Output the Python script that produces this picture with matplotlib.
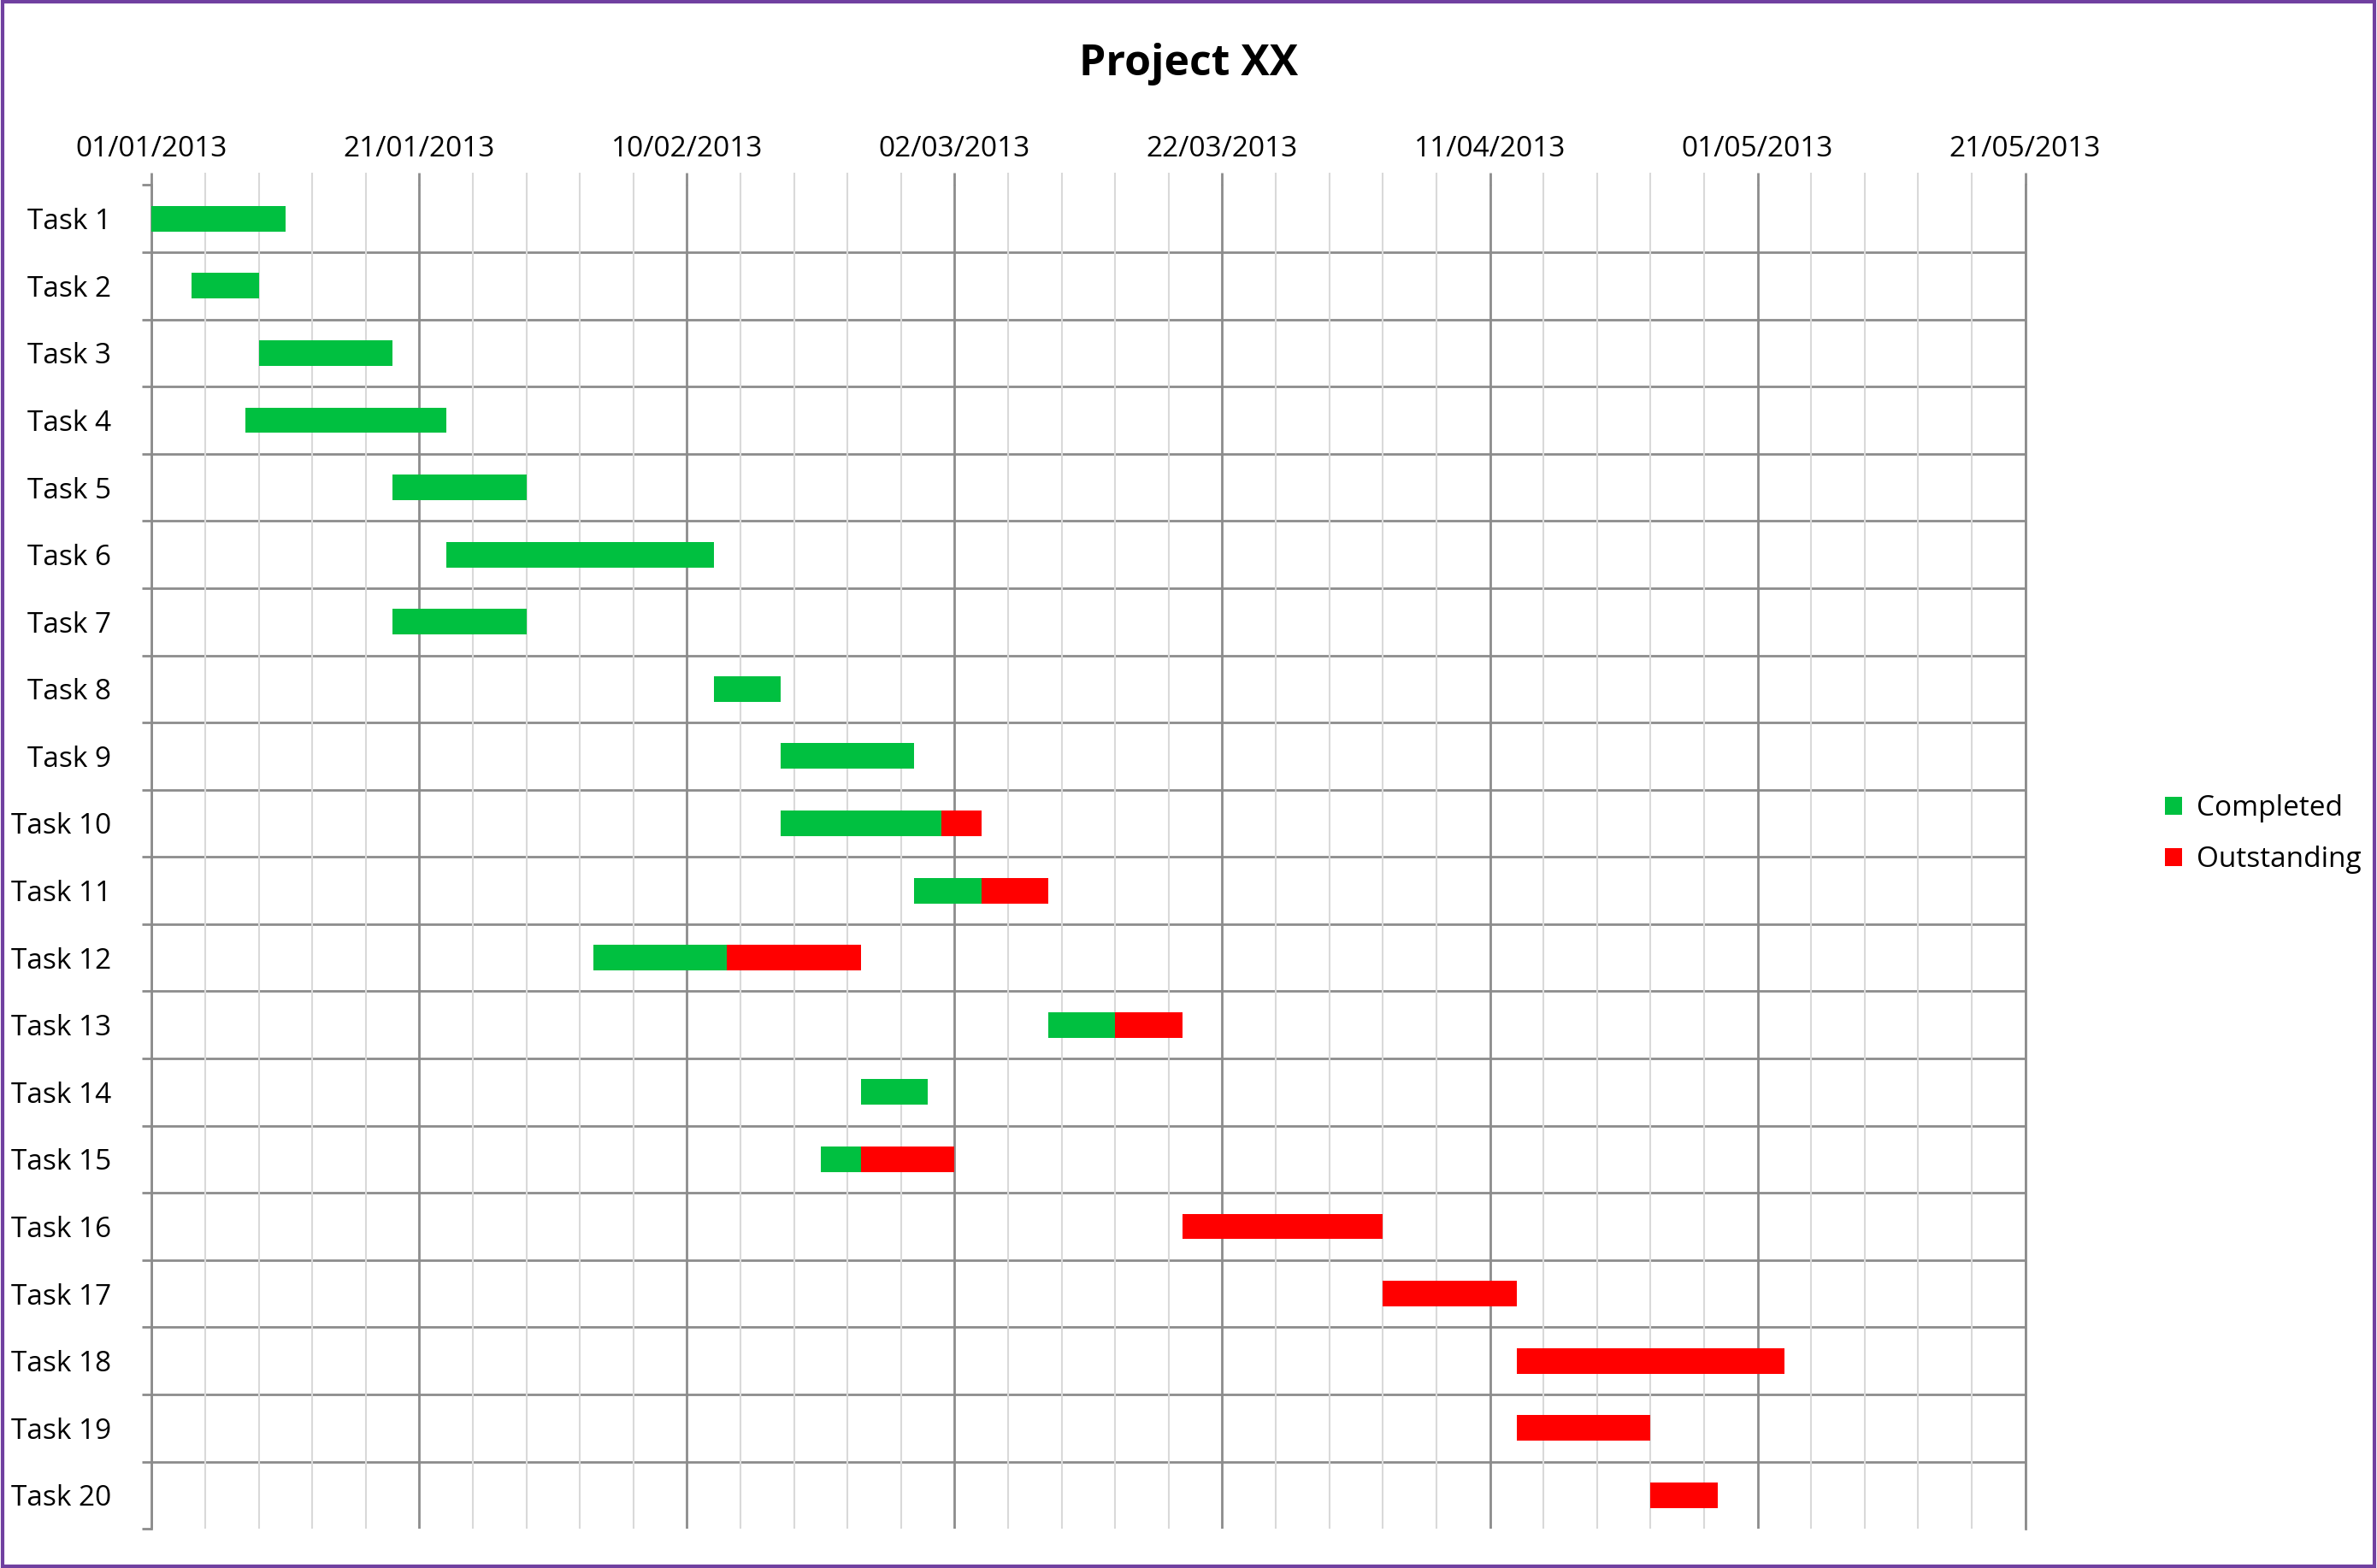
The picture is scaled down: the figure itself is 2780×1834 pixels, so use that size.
import matplotlib
matplotlib.use("Agg")
import matplotlib.pyplot as plt
from matplotlib.patches import Rectangle
import numpy as np

tasks = [f"Task {i}" for i in range(1, 21)]
start = [0, 3, 8, 7, 18, 22, 18, 42, 47, 47, 57, 33, 67, 53, 50, 77, 92, 102, 102, 112]
completed = [10, 5, 10, 15, 10, 20, 10, 5, 10, 12, 5, 10, 5, 5, 3, 0, 0, 0, 0, 0]
outstanding = [0, 0, 0, 0, 0, 0, 0, 0, 0, 3, 5, 10, 5, 0, 7, 15, 10, 20, 10, 5]
tick_days = [0, 20, 40, 60, 80, 100, 120, 140]
tick_labels = ["01/01/2013", "21/01/2013", "10/02/2013", "02/03/2013",
               "22/03/2013", "11/04/2013", "01/05/2013", "21/05/2013"]

plt.rcParams['font.family'] = ['Open Sans', 'DejaVu Sans']
fig = plt.figure(figsize=(27.8, 18.34), dpi=100)
ax = fig.add_axes([0.0638, 0.025, 0.852 - 0.0638, 0.882 - 0.025])

GREEN = "#00C040"
RED = "#FF0000"
y = np.arange(len(tasks))
ax.barh(y, completed, left=start, height=0.38, color=GREEN, label="Completed", zorder=3)
ax.barh(y, outstanding, left=np.array(start) + np.array(completed), height=0.38,
        color=RED, label="Outstanding", zorder=3)

ax.set_xlim(0, 140)
ax.set_ylim(len(tasks) - 0.5, -0.5)
ax.xaxis.tick_top()
ax.set_xticks(tick_days)
ax.set_xticklabels(tick_labels, fontsize=24)
ax.set_xticks(np.arange(0, 141, 4), minor=True)
ax.grid(axis='x', which='major', color='#8c8c8c', lw=2, zorder=1)
ax.grid(axis='x', which='minor', color='#d9d9d9', lw=1.5, zorder=0)
ax.tick_params(axis='x', which='major', length=10, color='#8c8c8c', width=2, pad=8)
ax.tick_params(axis='x', which='minor', length=10, color='#d9d9d9', width=1.5)

ax.set_yticks(y)
ax.set_yticklabels(tasks, fontsize=24)
ax.set_yticks(np.arange(-0.5, len(tasks) + 0.5, 1), minor=True)
ax.tick_params(axis='y', which='major', length=0, pad=34)
ax.tick_params(axis='y', which='minor', length=8, color='#8c8c8c', width=2)
for b in np.arange(0.5, len(tasks) - 0.5, 1):
    ax.axhline(b, color='#8c8c8c', lw=2, zorder=1)

for s in ['top', 'bottom', 'left', 'right']:
    ax.spines[s].set_color('#8c8c8c')
    ax.spines[s].set_linewidth(2)
ax.spines['top'].set_visible(False)
ax.spines['bottom'].set_visible(False)

fig.text(0.5, 0.959, "Project XX", ha='center', va='center', fontsize=36, fontweight='bold')
fig.legend(loc='center left', bbox_to_anchor=(0.9, 0.468), frameon=False, fontsize=24,
           handlelength=0.6, handleheight=0.6, handletextpad=0.5, labelspacing=0.8)

fig.patches.append(Rectangle((0.001, 0.001), 0.998, 0.998, transform=fig.transFigure,
                             fill=False, edgecolor='#7040A0', lw=3))
fig.savefig("out.png", dpi=100)
